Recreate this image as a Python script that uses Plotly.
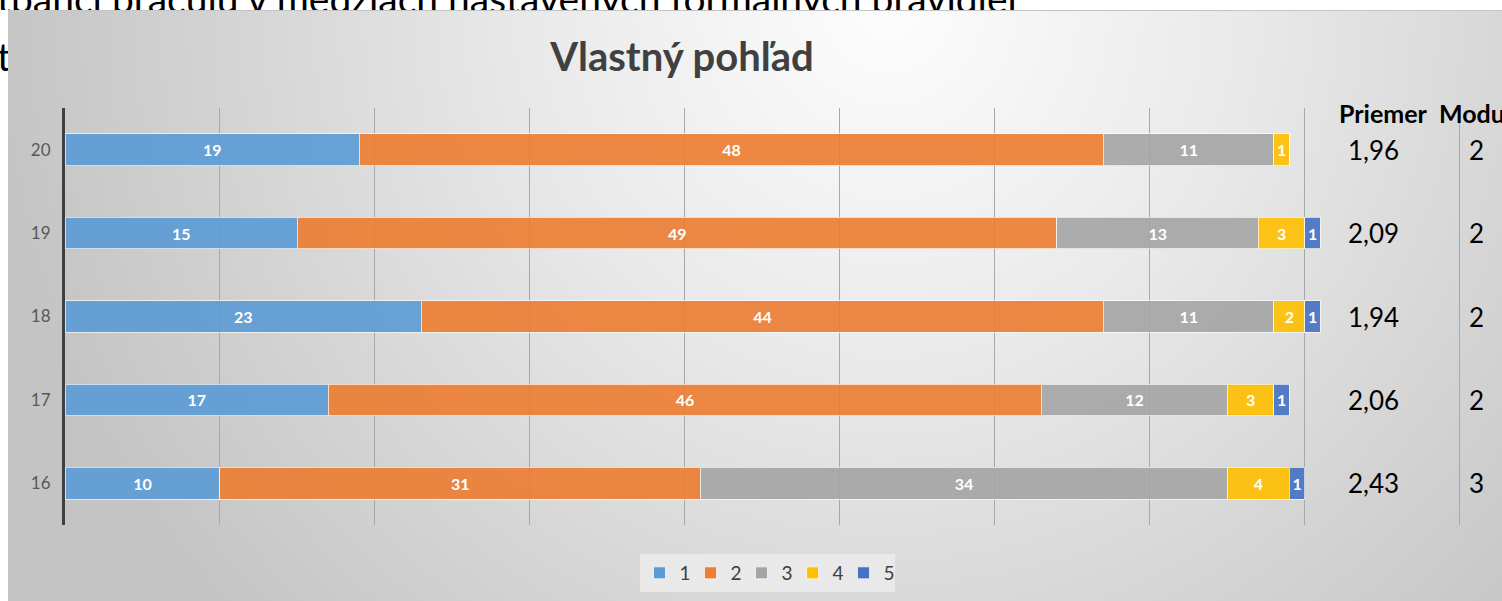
import base64
import plotly.graph_objects as go

# data
roky = ['16', '17', '18', '19', '20']
odpovede = ['1', '2', '3', '4', '5']
hodnoty = {
    '1': [10, 17, 23, 15, 19],
    '2': [31, 46, 44, 49, 48],
    '3': [34, 12, 11, 13, 11],
    '4': [4, 3, 2, 3, 1],
    '5': [1, 1, 1, 1, 0],
}
priemer = ['2,43', '2,06', '1,94', '2,09', '1,96']
modus = ['3', '2', '2', '2', '2']
farby = ['#5b9bd5', '#ed7d31', '#a5a5a5', '#ffc000', '#4472c4']

text_hore = 'tpanci pracujú v medziach nastavených formálnych pravidiel'
text_dole = 't'

W, H = 1502, 601
FONT = 'Lato'

fig = go.Figure()

# stacked bars
for odp, farba in zip(odpovede, farby):
    fig.add_trace(go.Bar(
        y=roky, x=hodnoty[odp], name=odp, orientation='h',
        marker=dict(color=farba, opacity=0.9, line=dict(color='rgba(255,255,255,0.7)', width=1)),
        text=hodnoty[odp], texttemplate='%{x}', textposition='inside',
        insidetextanchor='middle', constraintext='none', textangle=0,
        textfont=dict(family=FONT, size=16, color='white', weight='bold'),
        xaxis='x', yaxis='y'
    ))

# slide text partly hidden behind the chart panel (clipped by small subplots)
fig.add_trace(go.Scatter(
    x=[-3], y=[3], mode='text', text=[text_hore], textposition='middle right',
    textfont=dict(family=FONT, size=39, color='black'), showlegend=False,
    hoverinfo='skip', xaxis='x2', yaxis='y2'
))
fig.add_trace(go.Scatter(
    x=[-3], y=[61], mode='text', text=[text_dole], textposition='middle right',
    textfont=dict(family=FONT, size=39, color='black'), showlegend=False,
    hoverinfo='skip', xaxis='x3', yaxis='y3'
))

# gradient panel behind the chart
svg = (
    '<svg xmlns="http://www.w3.org/2000/svg" width="1494" height="591" '
    'viewBox="0 0 1494 591" preserveAspectRatio="none">'
    '<defs><radialGradient id="g" gradientUnits="userSpaceOnUse" cx="880" cy="0" r="900">'
    '<stop offset="0" stop-color="#fdfdfd"/><stop offset="0.4" stop-color="#e9e9e9"/>'
    '<stop offset="0.75" stop-color="#d3d3d3"/><stop offset="1" stop-color="#c4c4c4"/>'
    '</radialGradient></defs>'
    '<rect width="1494" height="591" fill="url(#g)"/>'
    '<line x1="0" y1="0.5" x2="1494" y2="0.5" stroke="#c4c4c4" stroke-width="1"/>'
    '</svg>'
)
panel = 'data:image/svg+xml;base64,' + base64.b64encode(svg.encode()).decode()

hlavicka = dict(showarrow=False, xref='paper', yref='paper', yanchor='middle',
                font=dict(family=FONT, size=25, color='black'))
anotacie = [
    dict(text='<b>Priemer</b>', x=1383 / W, y=(H - 113) / H, xanchor='center', **hlavicka),
    dict(text='<b>Modus</b>', x=1437 / W, y=(H - 113) / H, xanchor='left', **hlavicka),
]
# category axis: annotation y is the category index
for i, (p, m) in enumerate(zip(priemer, modus)):
    anotacie.append(dict(text=p, x=1373 / W, y=i, xref='paper', yref='y', showarrow=False,
                         xanchor='center', yanchor='middle',
                         font=dict(family=FONT, size=26, color='black')))
    anotacie.append(dict(text=m, x=1476 / W, y=i, xref='paper', yref='y', showarrow=False,
                         xanchor='center', yanchor='middle',
                         font=dict(family=FONT, size=26, color='black')))

fig.update_layout(
    width=W, height=H,
    margin=dict(l=0, r=0, t=0, b=0),
    paper_bgcolor='white', plot_bgcolor='rgba(0,0,0,0)',
    barmode='stack', bargap=0.62,
    title=dict(text='<b>Vlastný pohľad</b>', x=682 / W, xanchor='center',
               y=(H - 57) / H, yanchor='middle',
               font=dict(family=FONT, size=40, color='#404040')),
    xaxis=dict(domain=[65 / W, 1463 / W], range=[0, 90.2], dtick=10, showticklabels=False,
               showgrid=True, gridcolor='#a8a8a8', gridwidth=1, zeroline=False, fixedrange=True),
    yaxis=dict(domain=[76 / H, 493 / H], type='category', categoryorder='array',
               categoryarray=roky, range=[-0.5, 4.5], showline=True, linecolor='#404040',
               linewidth=3, showgrid=False, ticks='',
               tickfont=dict(family=FONT, size=17, color='#595959'), ticklabelstandoff=8),
    xaxis2=dict(domain=[0, 1], range=[0, W], visible=False, anchor='y2'),
    yaxis2=dict(domain=[(H - 10) / H, 1], range=[10, 0], visible=False, anchor='x2'),
    xaxis3=dict(domain=[0, 8 / W], range=[0, 8], visible=False, anchor='y3'),
    yaxis3=dict(domain=[0, 1], range=[H, 0], visible=False, anchor='x3'),
    legend=dict(orientation='h', x=767 / W, xanchor='center', y=(H - 573) / H, yanchor='middle',
                bgcolor='#e9e9e9', font=dict(family=FONT, size=19, color='#404040'),
                entrywidth=6, itemwidth=30, traceorder='normal'),
    images=[dict(source=panel, xref='paper', yref='paper', x=8 / W, y=(H - 10) / H,
                 sizex=(W - 8) / W, sizey=(H - 10) / H, xanchor='left', yanchor='top',
                 sizing='stretch', layer='below')],
    annotations=anotacie,
    showlegend=True,
)

fig.write_html('out.html', config={'displayModeBar': False},
               post_script="document.body.style.margin='0';")
